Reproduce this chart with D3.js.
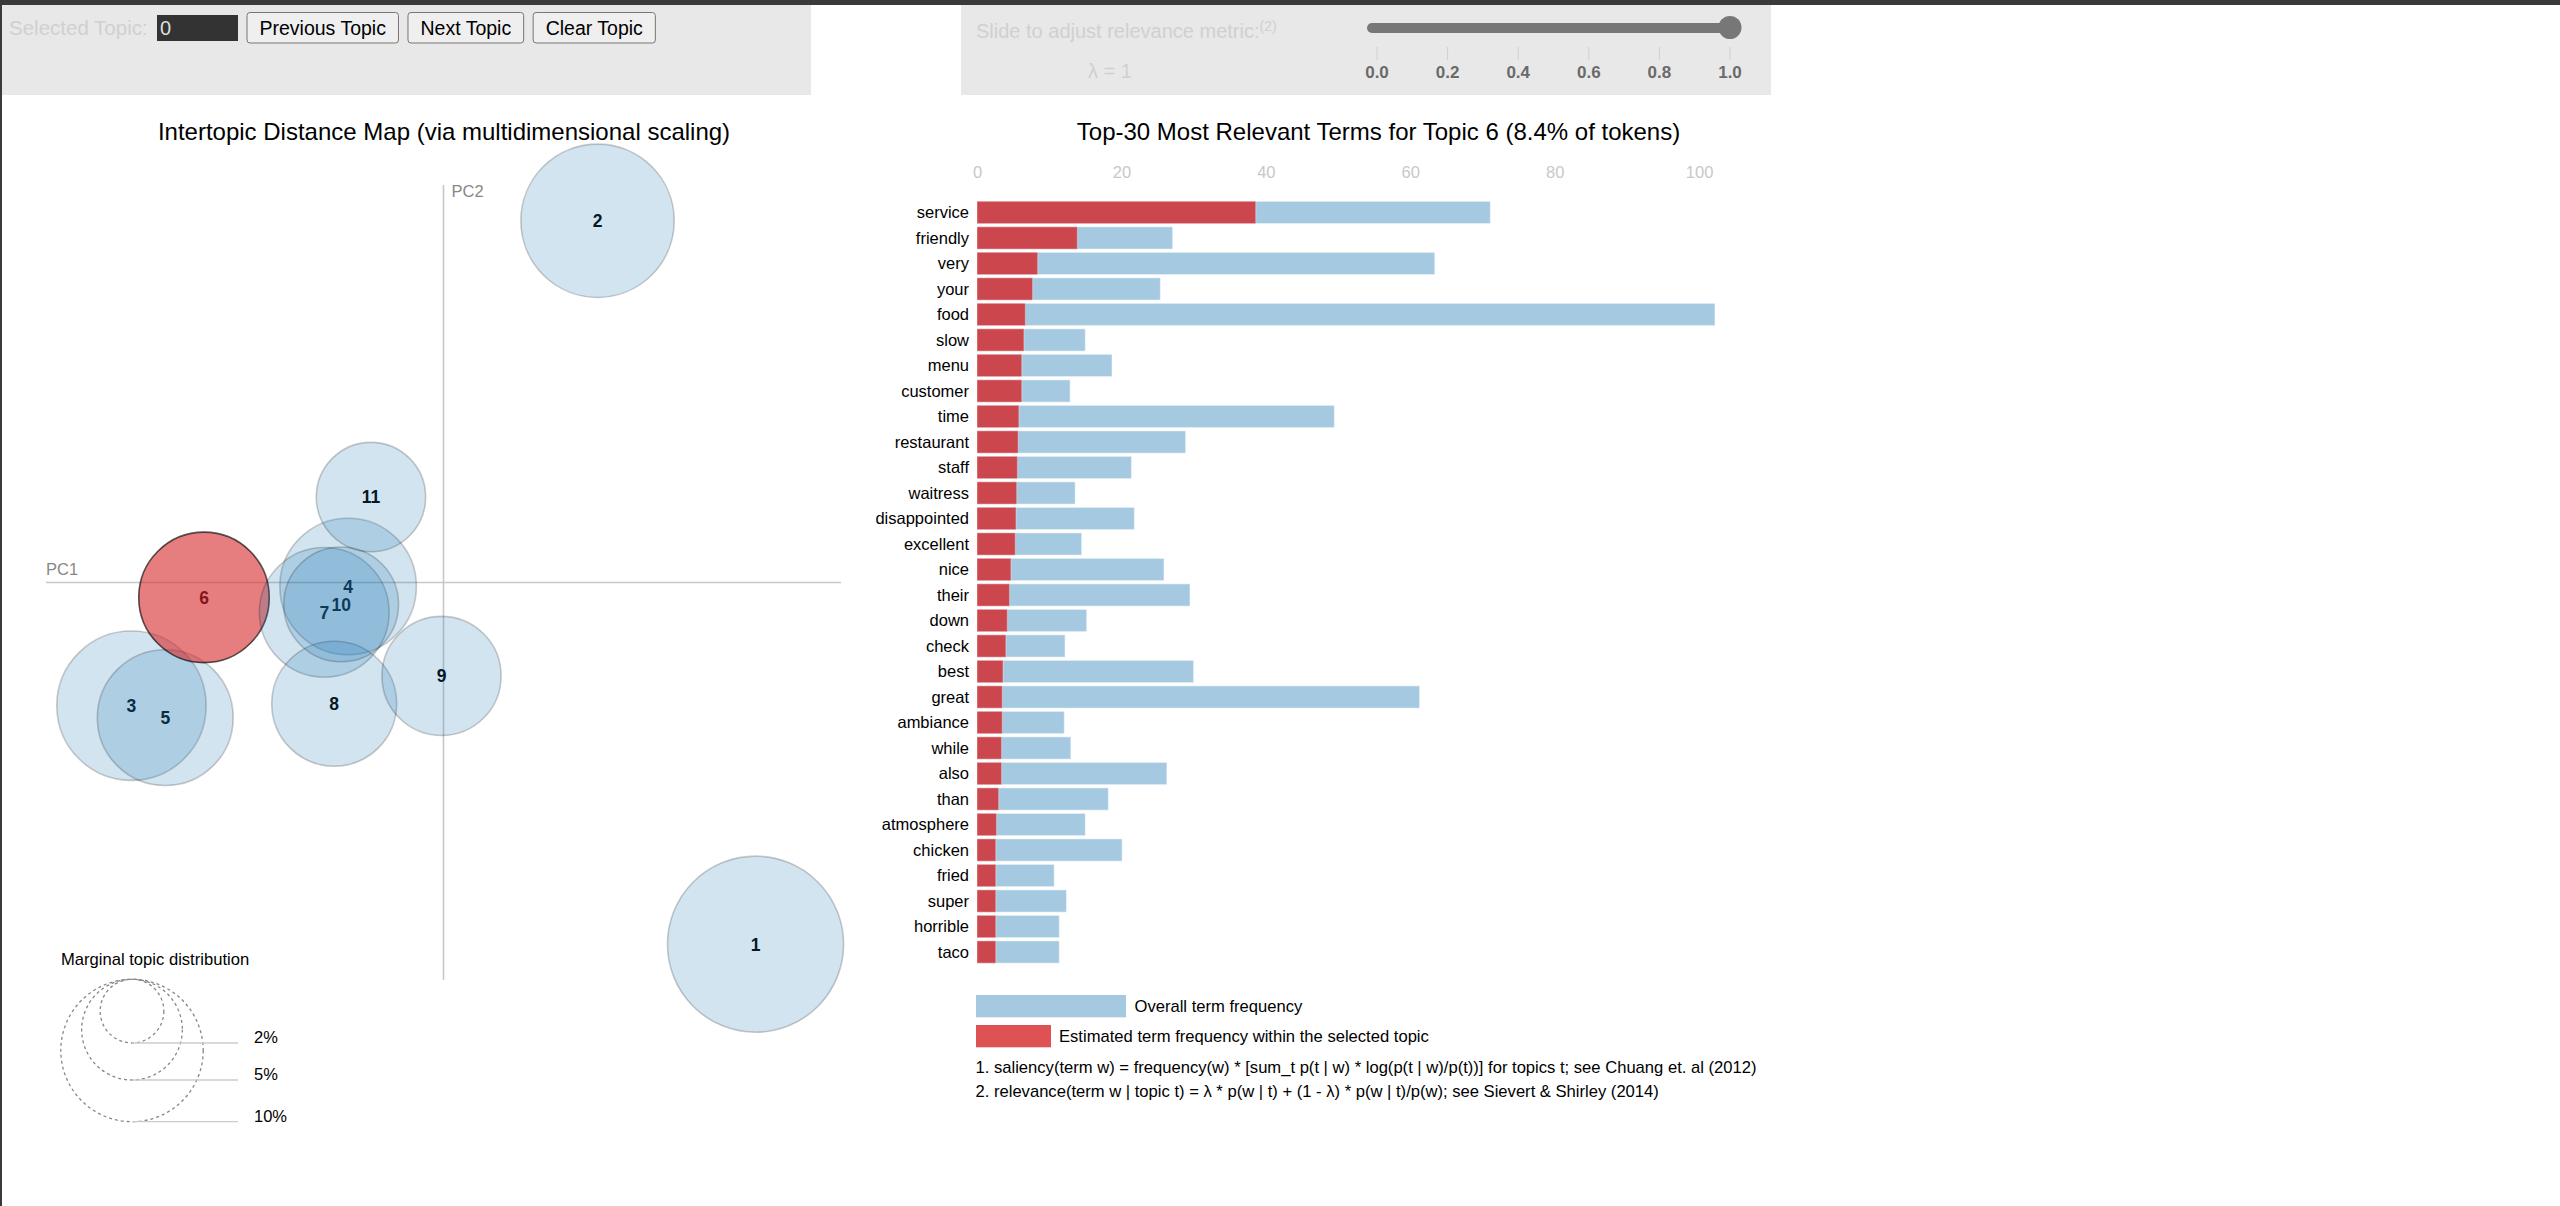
<!DOCTYPE html>
<html>
<head>
<meta charset="utf-8">
<script src="https://cdn.jsdelivr.net/npm/d3@7"></script>
<style>
body { margin: 0; background: #fff; overflow: hidden; }
svg text { font-family: Arial, "Liberation Sans", sans-serif; }
</style>
</head>
<body>
<svg id="vis"></svg>
<script>
// page size
const WIDTH = 2560;
const HEIGHT = 1206;

// topics in the intertopic distance map
const TOPICS = [1, 2, 3, 4, 5, 6, 7, 8, 9, 10, 11];
const TOPIC_X = [0.314, 0.155, -0.314, -0.096, -0.280, -0.241, -0.120, -0.110, -0.002, -0.103, -0.073];
const TOPIC_Y = [-0.364, 0.364, -0.124, -0.004, -0.136, -0.015, -0.030, -0.122, -0.094, -0.022, 0.086];
const TOPIC_FREQ = [15.3, 11.6, 11.0, 9.2, 9.1, 8.4, 8.3, 7.7, 7.0, 6.5, 5.9];
const SELECTED_TOPIC = 6;
const SIZE_LEGEND = [2, 5, 10];

// top-30 terms for the selected topic
const TERMS = ["service", "friendly", "very", "your", "food", "slow", "menu", "customer", "time", "restaurant",
    "staff", "waitress", "disappointed", "excellent", "nice", "their", "down", "check", "best", "great",
    "ambiance", "while", "also", "than", "atmosphere", "chicken", "fried", "super", "horrible", "taco"];
const TERM_TOTAL = [71.1, 27.1, 63.4, 25.4, 102.2, 15.0, 18.7, 12.9, 49.5, 28.9,
    21.4, 13.6, 21.8, 14.5, 25.9, 29.5, 15.2, 12.2, 30.0, 61.3,
    12.1, 13.0, 26.3, 18.2, 15.0, 20.1, 10.7, 12.4, 11.4, 11.4];
const TERM_EST = [38.6, 13.9, 8.4, 7.7, 6.7, 6.5, 6.2, 6.2, 5.8, 5.7,
    5.6, 5.5, 5.4, 5.3, 4.7, 4.5, 4.2, 4.0, 3.6, 3.5,
    3.5, 3.4, 3.4, 3.0, 2.7, 2.6, 2.6, 2.6, 2.6, 2.6];
const BAR_TICKS = [0, 20, 40, 60, 80, 100];

// relevance slider
const LAMBDA = 1;
const LAMBDA_TICKS = [0, 0.2, 0.4, 0.6, 0.8, 1.0];
const BUTTONS = ["Previous Topic", "Next Topic", "Clear Topic"];

const FONT = "Arial, 'Liberation Sans', sans-serif";
const BLUE = "#1f77b4";
const RED = "#d62728";

const SVG = d3.select("#vis")
    .attr("width", WIDTH)
    .attr("height", HEIGHT);

// dark strip on top and left edge
SVG.append("rect").attr("x", 0).attr("y", 0).attr("width", WIDTH).attr("height", 5).attr("fill", "#3a3a3a");
SVG.append("rect").attr("x", 0).attr("y", 0).attr("width", 2).attr("height", HEIGHT).attr("fill", "#3a3a3a");

// ---------- top control panels ----------
SVG.append("rect").attr("x", 2).attr("y", 5).attr("width", 809).attr("height", 90).attr("fill", "#e8e8e8");
SVG.append("rect").attr("x", 961).attr("y", 5).attr("width", 810).attr("height", 90).attr("fill", "#e8e8e8");

SVG.append("text")
    .attr("x", 9).attr("y", 34.5)
    .attr("font-size", "20.5px").attr("fill", "#d0d0d0")
    .text("Selected Topic:");
SVG.append("rect").attr("x", 157).attr("y", 15).attr("width", 81).attr("height", 26).attr("fill", "#333");
SVG.append("text")
    .attr("x", 160).attr("y", 34.5)
    .attr("font-size", "20px").attr("fill", "#ddd")
    .text("0");

// buttons laid out one after another
let bx = 247;
BUTTONS.forEach((label) => {
    const g = SVG.append("g");
    const t = g.append("text")
        .attr("y", 34.5)
        .attr("font-size", "19.5px").attr("fill", "#000")
        .attr("text-anchor", "middle")
        .text(label);
    const w = t.node().getComputedTextLength() + 25;
    g.insert("rect", "text")
        .attr("x", bx).attr("y", 12.5).attr("width", w).attr("height", 30.5)
        .attr("rx", 3)
        .attr("fill", "#efefef").attr("stroke", "#767676");
    t.attr("x", bx + w / 2);
    bx += w + 9.5;
});

// relevance slider
const L_SCALE = d3.scaleLinear().domain([0, 1]).range([1377, 1730]);
const slideLabel = SVG.append("text")
    .attr("x", 976).attr("y", 38)
    .attr("font-size", "20px").attr("fill", "#d0d0d0");
slideLabel.append("tspan").text("Slide to adjust relevance metric:");
slideLabel.append("tspan").attr("font-size", "14px").attr("dy", "-7").text("(2)");

SVG.append("text")
    .attr("x", 1088).attr("y", 78)
    .attr("font-size", "20px").attr("fill", "#d0d0d0")
    .text("\u03bb = " + LAMBDA);

SVG.append("rect")
    .attr("x", L_SCALE(0) - 10).attr("y", 23).attr("width", L_SCALE(1) - L_SCALE(0) + 21).attr("height", 10)
    .attr("rx", 5).attr("fill", "#777");
SVG.append("circle")
    .attr("cx", L_SCALE(LAMBDA)).attr("cy", 27.5).attr("r", 11.5).attr("fill", "#777");

SVG.selectAll(".lt")
    .data(LAMBDA_TICKS)
    .enter()
    .append("line")
    .attr("x1", (d) => L_SCALE(d)).attr("x2", (d) => L_SCALE(d))
    .attr("y1", 47).attr("y2", 60)
    .attr("stroke", "#d0d0d0");
SVG.selectAll(".ltl")
    .data(LAMBDA_TICKS)
    .enter()
    .append("text")
    .attr("x", (d) => L_SCALE(d)).attr("y", 78)
    .attr("text-anchor", "middle")
    .attr("font-size", "17px").attr("font-weight", "bold").attr("fill", "#6a6a6a")
    .text((d) => d.toFixed(1));

// ---------- intertopic distance map ----------
SVG.append("text")
    .attr("x", 444).attr("y", 140)
    .attr("text-anchor", "middle")
    .attr("font-size", "24px").attr("fill", "#000")
    .text("Intertopic Distance Map (via multidimensional scaling)");

const X_SCALE = d3.scaleLinear().domain([-0.4, 0.4]).range([46, 841]);
const Y_SCALE = d3.scaleLinear().domain([-0.4, 0.4]).range([980, 185]);
const R_SCALE = d3.scaleSqrt().domain([0, 10]).range([0, 71.2]);

// PC axes through the middle of the map
SVG.append("line")
    .attr("x1", X_SCALE.range()[0]).attr("x2", X_SCALE.range()[1])
    .attr("y1", Y_SCALE(0)).attr("y2", Y_SCALE(0))
    .attr("stroke", "#c8c8c8").attr("stroke-width", 1.6);
SVG.append("line")
    .attr("x1", X_SCALE(0)).attr("x2", X_SCALE(0))
    .attr("y1", Y_SCALE.range()[1]).attr("y2", Y_SCALE.range()[0])
    .attr("stroke", "#c8c8c8").attr("stroke-width", 1.6);
SVG.append("text")
    .attr("x", X_SCALE.range()[0]).attr("y", Y_SCALE(0) - 8)
    .attr("font-size", "16.5px").attr("fill", "#888")
    .text("PC1");
SVG.append("text")
    .attr("x", X_SCALE(0) + 8).attr("y", Y_SCALE.range()[1] + 12)
    .attr("font-size", "16.5px").attr("fill", "#888")
    .text("PC2");

const TOPIC_DATA = TOPICS.map((t, i) => ({ topic: t, x: TOPIC_X[i], y: TOPIC_Y[i], freq: TOPIC_FREQ[i] }));

// labels first, circles drawn over them
SVG.selectAll(".tlabel")
    .data(TOPIC_DATA)
    .enter()
    .append("text")
    .attr("x", (d) => X_SCALE(d.x))
    .attr("y", (d) => Y_SCALE(d.y))
    .attr("dy", "0.36em")
    .attr("text-anchor", "middle")
    .attr("font-size", "17.5px").attr("font-weight", "bold").attr("fill", "#000")
    .text((d) => d.topic);

SVG.selectAll(".dot")
    .data(TOPIC_DATA)
    .enter()
    .append("circle")
    .attr("cx", (d) => X_SCALE(d.x))
    .attr("cy", (d) => Y_SCALE(d.y))
    .attr("r", (d) => R_SCALE(d.freq))
    .attr("fill", (d) => d.topic == SELECTED_TOPIC ? RED : BLUE)
    .attr("fill-opacity", (d) => d.topic == SELECTED_TOPIC ? 0.6 : 0.2)
    .attr("stroke", "#000")
    .attr("stroke-opacity", (d) => d.topic == SELECTED_TOPIC ? 0.65 : 0.2)
    .attr("stroke-width", 1.6);

// marginal topic distribution legend
const LEG_CX = 132, LEG_TOP = 979.3;
SVG.append("text")
    .attr("x", 61).attr("y", 965)
    .attr("font-size", "16.6px").attr("fill", "#000")
    .text("Marginal topic distribution");
SVG.selectAll(".lc")
    .data(SIZE_LEGEND)
    .enter()
    .append("circle")
    .attr("cx", LEG_CX)
    .attr("cy", (d) => LEG_TOP + R_SCALE(d))
    .attr("r", (d) => R_SCALE(d))
    .attr("fill", "none")
    .attr("stroke", "#888").attr("stroke-width", 1.3)
    .attr("stroke-dasharray", "3 3");
SVG.selectAll(".ll")
    .data(SIZE_LEGEND)
    .enter()
    .append("line")
    .attr("x1", LEG_CX).attr("x2", 238)
    .attr("y1", (d) => LEG_TOP + 2 * R_SCALE(d))
    .attr("y2", (d) => LEG_TOP + 2 * R_SCALE(d))
    .attr("stroke", "#ccc").attr("stroke-width", 1.3);
SVG.selectAll(".llab")
    .data(SIZE_LEGEND)
    .enter()
    .append("text")
    .attr("x", 254)
    .attr("y", (d) => LEG_TOP + 2 * R_SCALE(d))
    .attr("font-size", "16.5px").attr("fill", "#000")
    .text((d) => d + "%");

// ---------- bar chart of terms ----------
SVG.append("text")
    .attr("x", 1378.5).attr("y", 140)
    .attr("text-anchor", "middle")
    .attr("font-size", "24px").attr("fill", "#000")
    .text("Top-30 Most Relevant Terms for Topic " + SELECTED_TOPIC + " (" + TOPIC_FREQ[SELECTED_TOPIC - 1] + "% of tokens)");

const BAR_DATA = TERMS.map((t, i) => ({ term: t, total: TERM_TOTAL[i], est: TERM_EST[i] }));
const BX_SCALE = d3.scaleLinear()
    .domain([0, d3.max(TERM_TOTAL)])
    .range([977, 977 + 7.221 * d3.max(TERM_TOTAL)]);
const BY_SCALE = d3.scaleBand()
    .domain(TERMS)
    .range([201.3, 963.2])
    .paddingInner(0.125)
    .paddingOuter(0);

// axis on top, light tick labels only
const xAxis = SVG.append("g")
    .attr("transform", "translate(0,166)")
    .call(d3.axisTop(BX_SCALE).tickValues(BAR_TICKS).tickSize(0).tickPadding(0));
xAxis.select(".domain").remove();
xAxis.selectAll("text")
    .attr("font-family", FONT)
    .attr("font-size", "16.5px")
    .attr("fill", "#c8c8c8")
    .attr("dy", "0.72em");

SVG.selectAll(".bar-total")
    .data(BAR_DATA)
    .enter()
    .append("rect")
    .attr("x", BX_SCALE(0))
    .attr("y", (d) => BY_SCALE(d.term))
    .attr("width", (d) => BX_SCALE(d.total) - BX_SCALE(0))
    .attr("height", BY_SCALE.bandwidth())
    .attr("fill", BLUE).attr("fill-opacity", 0.4)
    .attr("stroke", "#fff").attr("stroke-opacity", 0.45).attr("stroke-width", 1.2);

SVG.selectAll(".bar-est")
    .data(BAR_DATA)
    .enter()
    .append("rect")
    .attr("x", BX_SCALE(0))
    .attr("y", (d) => BY_SCALE(d.term))
    .attr("width", (d) => BX_SCALE(d.est) - BX_SCALE(0))
    .attr("height", BY_SCALE.bandwidth())
    .attr("fill", RED).attr("fill-opacity", 0.8)
    .attr("stroke", "#fff").attr("stroke-opacity", 0.3).attr("stroke-width", 1.2);

SVG.selectAll(".term")
    .data(BAR_DATA)
    .enter()
    .append("text")
    .attr("x", 969)
    .attr("y", (d) => BY_SCALE(d.term) + BY_SCALE.bandwidth() / 2)
    .attr("dy", "0.35em")
    .attr("text-anchor", "end")
    .attr("font-size", "16.5px").attr("fill", "#000")
    .text((d) => d.term);

// bar legend
SVG.append("rect").attr("x", 976).attr("y", 995).attr("width", 150).attr("height", 22.3)
    .attr("fill", BLUE).attr("fill-opacity", 0.4);
SVG.append("text").attr("x", 1134.5).attr("y", 1011.5)
    .attr("font-size", "16.6px").attr("fill", "#000")
    .text("Overall term frequency");
SVG.append("rect").attr("x", 976).attr("y", 1025).attr("width", 75).attr("height", 22.3)
    .attr("fill", RED).attr("fill-opacity", 0.8);
SVG.append("text").attr("x", 1059).attr("y", 1041.5)
    .attr("font-size", "16.6px").attr("fill", "#000")
    .text("Estimated term frequency within the selected topic");

SVG.append("text").attr("x", 975.5).attr("y", 1073)
    .attr("font-size", "16.6px").attr("fill", "#000")
    .text("1. saliency(term w) = frequency(w) * [sum_t p(t | w) * log(p(t | w)/p(t))] for topics t; see Chuang et. al (2012)");
SVG.append("text").attr("x", 975.5).attr("y", 1097)
    .attr("font-size", "16.6px").attr("fill", "#000")
    .text("2. relevance(term w | topic t) = \u03bb * p(w | t) + (1 - \u03bb) * p(w | t)/p(w); see Sievert & Shirley (2014)");
</script>
</body>
</html>
